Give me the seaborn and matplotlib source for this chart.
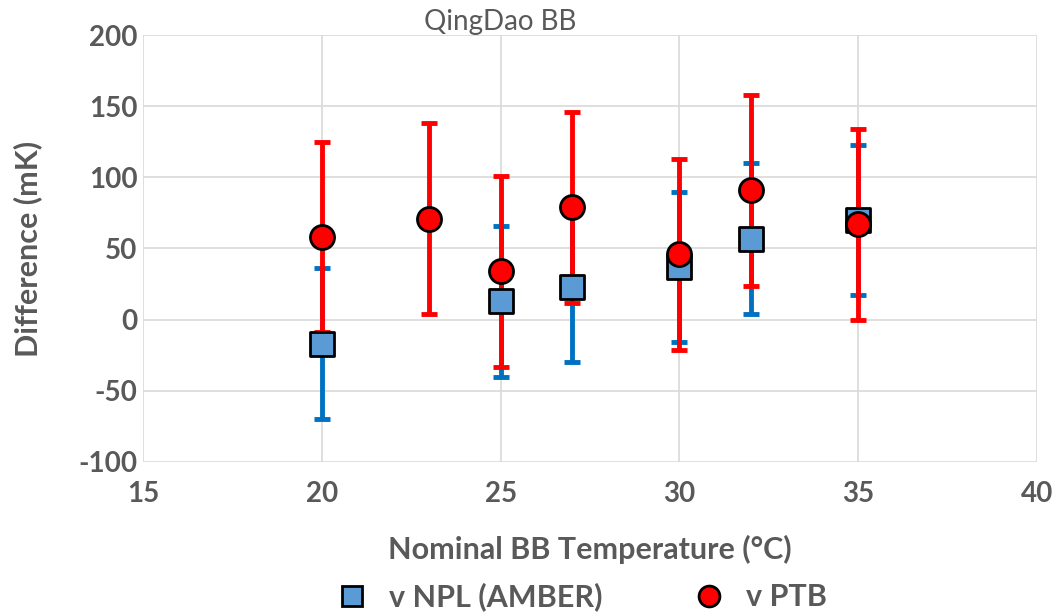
import numpy as np
import pandas as pd
import matplotlib
matplotlib.use("Agg")
import matplotlib.pyplot as plt
import seaborn as sns
from matplotlib.lines import Line2D

# values
npl_temp = [20, 25, 27, 30, 32, 35]
npl_diff = [-17, 13, 23, 37, 57, 70]
npl_err = [53, 53, 53, 53, 53, 53]

ptb_temp = [20, 23, 25, 27, 30, 32, 35]
ptb_diff = [58, 71, 34, 79, 46, 91, 67]
ptb_err = [67, 67, 67, 67, 67, 67, 67]

x_ticks = [15, 20, 25, 30, 35, 40]
y_ticks = [-100, -50, 0, 50, 100, 150, 200]

npl = pd.DataFrame({"temp": npl_temp, "diff": npl_diff, "err": npl_err})
ptb = pd.DataFrame({"temp": ptb_temp, "diff": ptb_diff, "err": ptb_err})

sns.set_style("white")
plt.rcParams["font.family"] = ["Lato", "DejaVu Sans"]
plt.rcParams["axes.unicode_minus"] = False

text_col = "#595959"
grid_col = "#D9D9D9"

fig = plt.figure(figsize=(10.62, 6.12), dpi=100)
ax = fig.add_axes([143 / 1062, 1 - 462 / 612, (1037 - 143) / 1062, (462 - 35) / 612])

# error bars first, then markers on top
ax.errorbar(npl["temp"], npl["diff"], yerr=npl["err"], fmt="none",
            ecolor="#0070C0", elinewidth=3.5, capsize=6, capthick=3.5, zorder=2)
ax.errorbar(ptb["temp"], ptb["diff"], yerr=ptb["err"], fmt="none",
            ecolor="#FF0000", elinewidth=3.5, capsize=6, capthick=3.5, zorder=3)
sns.scatterplot(data=npl, x="temp", y="diff", marker="s", s=300, color="#5B9BD5",
                edgecolor="black", linewidth=2, ax=ax, zorder=4, legend=False)
sns.scatterplot(data=ptb, x="temp", y="diff", marker="o", s=300, color="#FF0000",
                edgecolor="black", linewidth=2, ax=ax, zorder=5, legend=False)

ax.set_xlim(15, 40)
ax.set_ylim(-100, 200)
ax.set_xticks(x_ticks)
ax.set_yticks(y_ticks)
ax.grid(True, color=grid_col, linewidth=1.2)
ax.set_axisbelow(True)
for s in ax.spines.values():
    s.set_visible(False)
ax.tick_params(length=0, labelsize=20, labelcolor=text_col)
ax.tick_params(axis="y", pad=4)
ax.tick_params(axis="x", pad=14)
for lab in ax.get_xticklabels() + ax.get_yticklabels():
    lab.set_fontweight("bold")

ax.set_xlabel("Nominal BB Temperature (°C)", fontsize=22, fontweight="bold",
              color=text_col, labelpad=20)
ax.set_ylabel("Difference (mK)", fontsize=22, fontweight="bold",
              color=text_col, labelpad=26)

fig.text(500 / 1062, 1 - 22 / 612, "QingDao BB", fontsize=20, color=text_col,
         ha="center", va="center")

handles = [
    Line2D([], [], marker="s", linestyle="none", markersize=15,
           markerfacecolor="#5B9BD5", markeredgecolor="black", markeredgewidth=2),
    Line2D([], [], marker="o", linestyle="none", markersize=15,
           markerfacecolor="#FF0000", markeredgecolor="black", markeredgewidth=2),
]
leg = fig.legend(handles, ["v NPL (AMBER)", "v PTB"], loc="center",
                 bbox_to_anchor=(574 / 1062, 1 - 597 / 612), ncol=2, frameon=False,
                 fontsize=22, handletextpad=0.2, columnspacing=2.5)
for t in leg.get_texts():
    t.set_color(text_col)
    t.set_fontweight("bold")

fig.savefig("out.png", dpi=100)
